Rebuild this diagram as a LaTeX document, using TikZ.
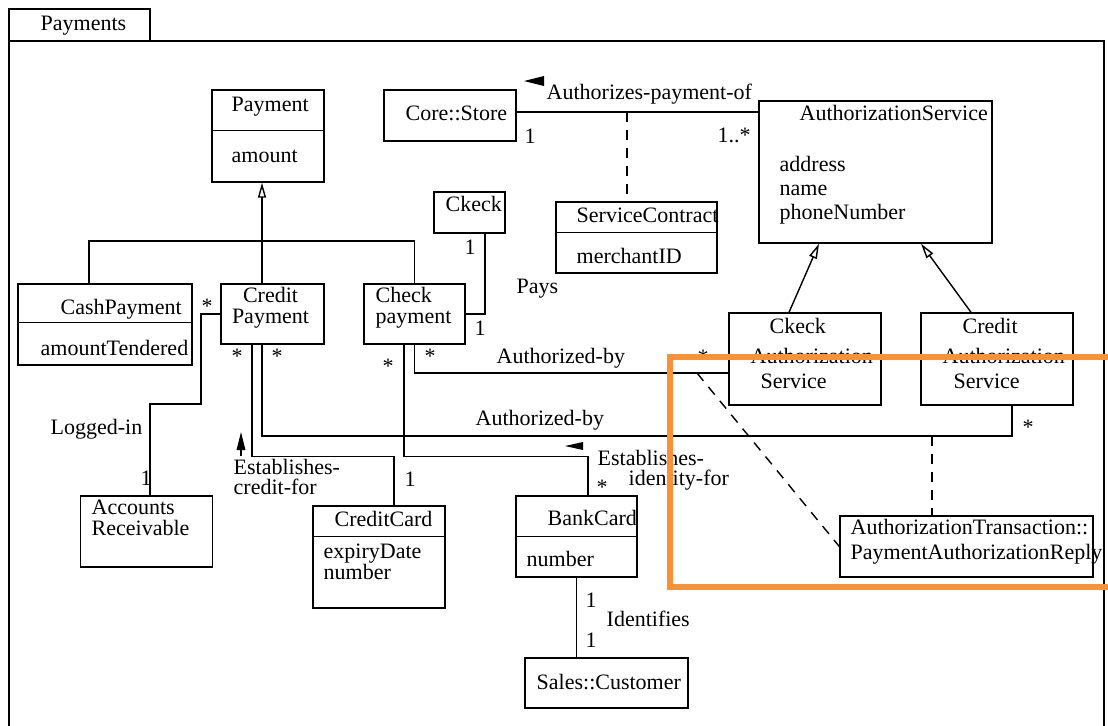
\documentclass[tikz,border=0pt]{standalone}
\usepackage{fontspec}
\setmainfont{Liberation Serif}
\usetikzlibrary{arrows.meta}
\definecolor{hilite}{RGB}{246,146,60}

\begin{document}
\begin{tikzpicture}[x=0.5pt, y=-0.5pt, line width=0.7pt]
    \tikzset{%
      cls/.style={draw, rectangle, inner sep=0pt},
      txt/.style={anchor=base west, inner sep=0pt,
        font=\fontsize{11}{11}\selectfont},
      ctxt/.style={anchor=base, inner sep=0pt,
        font=\fontsize{11}{11}\selectfont},
      gen/.style={-{Triangle[open, length=7.5pt, width=4pt]}},
      dep/.style={dash pattern=on 5pt off 4pt},
    }
    \useasboundingbox (0,0) rectangle (1108,725);

    % package frame
    \node[cls, minimum width=70.5pt, minimum height=16pt] (tab) at (79.5,25) {};
    \node[txt] at (40,30) {Payments};
    \draw (9,760) |- (1104,41) -- (1104,760);

    % classes
    \node[cls, minimum width=56pt, minimum height=46pt] (pay) at (268,136) {};
    \draw ([yshift=-20.5pt]pay.north west) -- ([yshift=-20.5pt]pay.north east);
    \node[txt] at (231,111) {Payment};
    \node[txt] at (231,162) {amount};

    \node[cls, minimum width=66pt, minimum height=25.5pt] (store) at (450,115.5) {};
    \node[txt] at (405,120) {Core::Store};

    \node[cls, minimum width=80.5pt, minimum height=35.5pt] (svc) at (636.5,237.5) {};
    \draw ([yshift=-15.5pt]svc.north west) -- ([yshift=-15.5pt]svc.north east);
    \node[txt] at (576,222) {ServiceContract};
    \node[txt] at (576,263) {merchantID};

    \node[cls, minimum width=116.5pt, minimum height=71pt] (auth) at (875.5,172) {};
    \node[txt] at (799,120) {AuthorizationService};
    \node[txt] at (779,171) {address};
    \node[txt] at (779,195) {name};
    \node[txt] at (779,219) {phoneNumber};

    \node[cls, minimum width=35.5pt, minimum height=20.5pt] (chk) at (469.5,212.5) {};
    \node[txt] at (445,211) {Ckeck};

    \node[cls, minimum width=87pt, minimum height=40.5pt] (cash) at (105,324.5) {};
    \draw ([yshift=-19.5pt]cash.north west) -- ([yshift=-19.5pt]cash.north east);
    \node[txt] at (60,314) {CashPayment};
    \node[txt] at (40,355) {amountTendered};

    \node[cls, minimum width=51.5pt, minimum height=30pt] (crp) at (272.5,314) {};
    \node[ctxt] at (270.5,302) {Credit};
    \node[ctxt] at (270.5,323) {Payment};

    \node[cls, minimum width=50.5pt, minimum height=30pt] (chp) at (414.5,314) {};
    \node[txt] at (375,302) {Check};
    \node[txt] at (375,323) {payment};

    \node[cls, minimum width=76pt, minimum height=46pt] (cas) at (805,359) {};
    \node[txt] at (769,333) {Ckeck};
    \node[txt] at (750,363) {Authorization};
    \node[txt] at (760,388) {Service};

    \node[cls, minimum width=76pt, minimum height=46pt] (cras) at (997,359) {};
    \node[txt] at (962,333) {Credit};
    \node[txt] at (942,363) {Authorization};
    \node[txt] at (953,388) {Service};

    \node[cls, minimum width=66pt, minimum height=35.5pt] (acr) at (146.5,531.5) {};
    \node[txt] at (91,514) {Accounts};
    \node[txt] at (91,535) {Receivable};

    \node[cls, minimum width=66pt, minimum height=51pt] (ccd) at (379,557) {};
    \draw ([yshift=-15.5pt]ccd.north west) -- ([yshift=-15.5pt]ccd.north east);
    \node[txt] at (334,526) {CreditCard};
    \node[txt] at (323,558) {expiryDate};
    \node[txt] at (323,579) {number};

    \node[cls, minimum width=60.5pt, minimum height=40.5pt] (bkc) at (576.5,536.5) {};
    \draw ([yshift=-20.5pt]bkc.north west) -- ([yshift=-20.5pt]bkc.north east);
    \node[txt] at (547,525) {BankCard};
    \node[txt] at (526,566) {number};

    \node[cls, minimum width=81.5pt, minimum height=25pt] (cust) at (606.5,683) {};
    \node[txt] at (536,689) {Sales::Customer};

    \node[cls, minimum width=126.5pt, minimum height=30.5pt] (par) at (966.5,546.5) {};
    \node[txt] at (850,534) {AuthorizationTransaction::};
    \node[txt] at (850,559) {PaymentAuthorizationReply};

    % generalizations
    \coordinate (g) at (262,241);
    \draw[gen] (crp.north -| g) -- (pay.south -| g);
    \draw ([xshift=-8pt]cash.north) |- (chp.north |- g) -- (chp.north);
    \draw[gen] ([xshift=-8pt]cas.north) -- ([xshift=-28.25pt]auth.south);
    \draw[gen] ([xshift=-13pt]cras.north) -- ([xshift=22.75pt]auth.south);

    % Authorizes-payment-of
    \coordinate (sa) at ([yshift=1.75pt]store.east);
    \draw (sa) -- (sa -| auth.west);
    \coordinate (sc) at (627,112);
    \draw[dep] (sc) -- (sc |- svc.north);
    \fill (524,81) -- (544,76) -- (544,86) -- cycle;
    \node[txt] at (546,99) {Authorizes-payment-of};
    \node[ctxt] at (530,143) {1};
    \node[ctxt] at (734,142) {1..*};

    % Pays
    \draw (chp.east) -| ([xshift=7.75pt]chk.south);
    \node[txt] at (516,293) {Pays};
    \node[ctxt] at (470,254) {1};
    \node[ctxt] at (480,335) {1};

    % Logged-in
    \draw (crp.west) -| (201,404) -| ([xshift=1.75pt]acr.north);
    \node[ctxt] at (207,313) {*};
    \node[txt] at (50,434) {Logged-in};
    \node[ctxt] at (146,485) {1};

    % Establishes-credit-for
    \draw ([xshift=-10.25pt]crp.south) |- (394,456.5) -- ([xshift=7.5pt]ccd.north);
    \fill (241,432) -- (236.5,450) -- (245.5,450) -- cycle;
    \draw (241,450) -- (241,456);
    \node[txt] at (233,474) {Establishes-};
    \node[txt] at (233,494) {credit-for};
    \node[ctxt] at (237,363) {*};
    \node[ctxt] at (410,486) {1};

    % Authorized-by (credit)
    \draw ([xshift=-5.25pt]crp.south) |- (1012,436) -- ([xshift=7.5pt]cras.south);
    \node[txt] at (475,425) {Authorized-by};
    \node[ctxt] at (277,363) {*};
    \node[ctxt] at (1028,434) {*};
    \coordinate (cr) at (932,436);
    \draw[dep] (cr) -- (cr |- par.north);

    % Establishes-identity-for
    \draw ([xshift=-5.25pt]chp.south) |- (588,456.5) -- ([xshift=5.75pt]bkc.north);
    \fill (565,446) -- (583,442) -- (583,450) -- cycle;
    \node[txt] at (597,465) {Establishes-};
    \node[txt] at (628,485) {identity-for};
    \node[ctxt] at (388,373) {*};
    \node[ctxt] at (602,494) {*};

    % Authorized-by (check)
    \coordinate (cb) at ([yshift=-7pt]cas.west);
    \draw (chp.south) |- (cb);
    \node[txt] at (496,363) {Authorized-by};
    \node[ctxt] at (430,363) {*};
    \node[ctxt] at (703,364) {*};
    \coordinate (cq) at (697,373);
    \draw[dep] (cq) -- (par.west);

    % Identifies
    \draw (bkc.south) -- (bkc.south |- cust.north);
    \node[txt] at (606,626) {Identifies};
    \node[ctxt] at (591,607) {1};
    \node[ctxt] at (591,647) {1};

    % highlight
    \draw[hilite, line width=3pt] (1120,357) -| (670,587) -- (1120,587);
\end{tikzpicture}
\end{document}
